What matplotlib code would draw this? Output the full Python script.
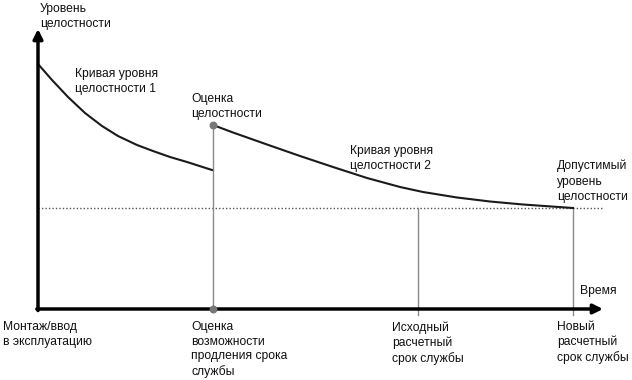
import matplotlib.pyplot as plt

plt.rcParams['font.family'] = ['Liberation Sans', 'DejaVu Sans']

# curve 1: from commissioning to assessment
t1 = [0, 14, 30, 47, 64, 80, 99, 115, 132, 149, 174]
lvl1 = [245, 229, 212, 196, 183, 173, 164, 158, 152, 147, 139]
# curve 2: after assessment up to new service life
t2 = [175, 195, 229, 262, 295, 329, 362, 385, 419, 452, 485, 535]
lvl2 = [184, 176.5, 164.5, 153, 142, 131, 122, 117, 111.5, 107.5, 104.5, 101]

limit_level = 101
t_assess = 175
t_orig = 380
t_new = 535
t_end = 565
lvl_top = 280

fig = plt.figure(figsize=(6.32, 3.8), dpi=100)
ax = fig.add_axes([0, 0, 1, 1])
ax.set_xlim(-38, 594)
ax.set_ylim(-71, 309)
ax.axis('off')

fs = 8.7
grey = '#8a8a8a'

# dotted permissible level
ax.plot([0, t_end], [limit_level, limit_level], color='#555555', lw=1,
        ls=(0, (1, 1.5)), zorder=1)

# vertical lines
ax.plot([t_assess, t_assess], [0, lvl2[0]], color=grey, lw=1, zorder=1)
ax.plot([t_orig, t_orig], [-6, limit_level], color=grey, lw=1, zorder=1)
ax.plot([t_new, t_new], [-6, limit_level], color=grey, lw=1, zorder=1)

# curves
ax.plot(t1, lvl1, color='#1a1a1a', lw=1.5, zorder=3)
ax.plot(t2, lvl2, color='#1a1a1a', lw=1.5, zorder=3)

# markers
ax.scatter([t_assess, t_assess], [lvl2[0], 0], s=22, color='#777777', zorder=5)

# axes arrows
ax.annotate('', xy=(0, lvl_top), xytext=(0, -1.5),
            arrowprops=dict(arrowstyle='-|>', lw=2.5, color='black',
                            mutation_scale=14, shrinkA=0, shrinkB=0))
ax.annotate('', xy=(t_end, 0), xytext=(-1.2, 0),
            arrowprops=dict(arrowstyle='-|>', lw=2.5, color='black',
                            mutation_scale=14, shrinkA=0, shrinkB=0))

txt = dict(fontsize=fs, color='#111111', va='top', ha='left', linespacing=1.38)
ax.text(2, 306, 'Уровень\nцелостности', **txt)
ax.text(37, 241, 'Кривая уровня\nцелостности 1', **txt)
ax.text(153, 216, 'Оценка\nцелостности', **txt)
ax.text(312, 164, 'Кривая уровня\nцелостности 2', **txt)
ax.text(519, 149, 'Допустимый\nуровень\nцелостности', **txt)
ax.text(542, 24, 'Время', **txt)
bot = dict(txt, linespacing=1.3)
ax.text(-35, -12, 'Монтаж/ввод\nв эксплуатацию', **bot)
ax.text(153, -12, 'Оценка\nвозможности\nпродления срока\nслужбы', **bot)
ax.text(354, -12, 'Исходный\nрасчетный\nсрок службы', **bot)
ax.text(519, -12, 'Новый\nрасчетный\nсрок службы', **bot)

fig.savefig('out.png', dpi=100)
